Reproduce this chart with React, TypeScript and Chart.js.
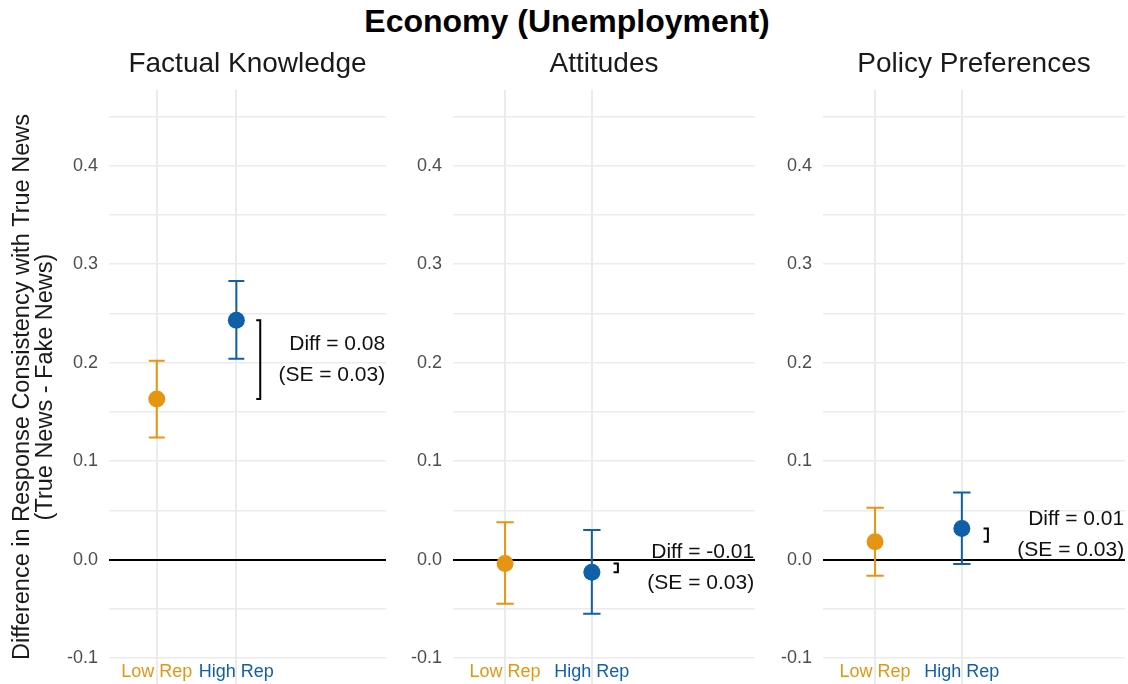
import React, { useEffect, useRef } from 'react';
import { Chart, registerables } from 'chart.js';
Chart.register(...registerables);

const FONT = "'Liberation Sans', Arial, Helvetica, sans-serif";

// ---- data ----
const mainTitle = 'Economy (Unemployment)';
const yTitle = ['Difference in Response Consistency with True News', '(True News - Fake News)'];
const panelTitles = ['Factual Knowledge', 'Attitudes', 'Policy Preferences'];
const groupLabels = ['Low Rep', 'High Rep'];
const groupX = [1, 2];
const groupColors = ['#E69512', '#1060A8'];
const lowRepEst = [0.163, -0.004, 0.018];
const lowRepLo = [0.124, -0.045, -0.0165];
const lowRepHi = [0.202, 0.038, 0.0525];
const highRepEst = [0.243, -0.013, 0.0315];
const highRepLo = [0.204, -0.055, -0.0045];
const highRepHi = [0.283, 0.03, 0.068];
const diffLabels = ['Diff = 0.08', 'Diff = -0.01', 'Diff = 0.01'];
const seLabels = ['(SE = 0.03)', '(SE = 0.03)', '(SE = 0.03)'];

// ---- scale ranges ----
const yMin = -0.1264;
const yMax = 0.4769;
const xMin = 0.4;
const xMax = 3.88;
const textX = 3.87;
const bracketX = 2.3;
const bracketTick = 0.05;
const capHalf = 0.1;

// ---- layout ----
const canvasLeft = [0, 393, 763];
const canvasWidth = [386, 362, 362];
const axisWidth = [109, 60, 60];

function Panel({ idx }: { idx: number }) {
  const ref = useRef<HTMLCanvasElement>(null);
  useEffect(() => {
    if (!ref.current) return;
    const est = [lowRepEst[idx], highRepEst[idx]];
    const lo = [lowRepLo[idx], highRepLo[idx]];
    const hi = [lowRepHi[idx], highRepHi[idx]];

    const errDatasets: any[] = groupX.map((gx, g) => ({
      type: 'line',
      data: [
        { x: gx, y: lo[g] }, { x: gx, y: hi[g] }, { x: gx, y: null },
        { x: gx - capHalf, y: hi[g] }, { x: gx + capHalf, y: hi[g] }, { x: gx, y: null },
        { x: gx - capHalf, y: lo[g] }, { x: gx + capHalf, y: lo[g] },
      ],
      borderColor: groupColors[g],
      borderWidth: 2,
      pointRadius: 0,
      pointHoverRadius: 0,
      showLine: true,
      spanGaps: false,
      fill: false,
      tension: 0,
      order: 3,
    }));
    const bracket: any = {
      type: 'line',
      data: [
        { x: bracketX - bracketTick, y: est[1] }, { x: bracketX, y: est[1] },
        { x: bracketX, y: est[0] }, { x: bracketX - bracketTick, y: est[0] },
      ],
      borderColor: '#000',
      borderWidth: 2,
      pointRadius: 0,
      pointHoverRadius: 0,
      showLine: true,
      fill: false,
      tension: 0,
      borderJoinStyle: 'miter',
      order: 2,
    };
    const points: any = {
      type: 'scatter',
      data: groupX.map((gx, g) => ({ x: gx, y: est[g] })),
      pointBackgroundColor: groupColors,
      backgroundColor: groupColors,
      pointBorderWidth: 0,
      borderWidth: 0,
      pointRadius: 8.5,
      pointHoverRadius: 8.5,
      showLine: false,
      order: 1,
    };

    const textPlugin = {
      id: 'panelText' + idx,
      afterDatasetsDraw(chart: any) {
        const { ctx, chartArea, scales } = chart;
        const x = scales.x;
        const y = scales.y;
        ctx.save();
        ctx.fillStyle = '#1a1a1a';
        ctx.font = `28px ${FONT}`;
        ctx.textAlign = 'center';
        ctx.textBaseline = 'alphabetic';
        ctx.fillText(panelTitles[idx], (chartArea.left + chartArea.right) / 2, chartArea.top - 18.5);

        ctx.font = `18px ${FONT}`;
        ctx.textBaseline = 'middle';
        groupX.forEach((gx, g) => {
          ctx.fillStyle = groupColors[g];
          ctx.fillText(groupLabels[g], x.getPixelForValue(gx), chartArea.bottom - 11.5);
        });

        const midY = y.getPixelForValue((est[0] + est[1]) / 2);
        const tx = x.getPixelForValue(textX);
        ctx.font = `21px ${FONT}`;
        ctx.textAlign = 'right';
        ctx.fillStyle = '#111';
        ctx.fillText(diffLabels[idx], tx, midY - 15.5);
        ctx.fillText(seLabels[idx], tx, midY + 15.5);
        ctx.restore();
      },
    };

    const isZero = (c: any) => c.tick && Math.abs(c.tick.value) < 1e-9;
    const noPad = (s: any) => { s.paddingTop = 0; s.paddingBottom = 0; s.paddingLeft = 0; s.paddingRight = 0; };

    const chart = new Chart(ref.current, {
      type: 'scatter',
      data: { datasets: [...errDatasets, bracket, points] },
      options: {
        animation: false,
        responsive: false,
        devicePixelRatio: 1,
        events: [],
        layout: { autoPadding: false, padding: { top: 90, bottom: 0, left: 0, right: 0 } },
        plugins: { legend: { display: false }, tooltip: { enabled: false }, title: { display: false } },
        scales: {
          x: {
            type: 'linear',
            min: xMin,
            max: xMax,
            afterBuildTicks: (s: any) => { s.ticks = groupX.map((v) => ({ value: v })); },
            afterFit: (s: any) => { s.height = 0; noPad(s); },
            ticks: { display: false },
            grid: { drawTicks: false, color: '#EBEBEB', lineWidth: 2 },
            border: { display: false },
          },
          y: {
            type: 'linear',
            min: yMin,
            max: yMax,
            afterBuildTicks: (s: any) => {
              s.ticks = s.ticks.filter((t: any) => Math.abs(t.value / 0.05 - Math.round(t.value / 0.05)) < 1e-6);
            },
            afterFit: (s: any) => { s.width = axisWidth[idx]; noPad(s); },
            ticks: {
              stepSize: 0.05,
              padding: 11,
              color: '#4D4D4D',
              font: { family: FONT, size: 18 },
              autoSkip: false,
              callback: (v: any) => (Math.abs(v * 10 - Math.round(v * 10)) < 1e-6 ? Number(v).toFixed(1) : ''),
            },
            grid: {
              drawTicks: false,
              color: (c: any) => (isZero(c) ? '#000' : '#EBEBEB'),
              lineWidth: (c: any) => (isZero(c) ? 2 : 1.6),
            },
            border: { display: false },
            title: idx === 0
              ? { display: true, text: yTitle, color: '#1a1a1a', font: { family: FONT, size: 23.5, lineHeight: 1 }, padding: { top: 10.5, bottom: 0 } }
              : { display: false },
          },
        },
      } as any,
      plugins: [textPlugin],
    } as any);
    return () => chart.destroy();
  }, [idx]);
  return (
    <canvas
      ref={ref}
      width={canvasWidth[idx]}
      height={684}
      style={{ position: 'absolute', left: canvasLeft[idx], top: 0, width: canvasWidth[idx], height: 684 }}
    />
  );
}

export default function App() {
  return (
    <div style={{ position: 'fixed', left: 0, top: 0, width: 1128, height: 684, background: '#fff', overflow: 'hidden' }}>
      <div
        style={{
          position: 'absolute', left: 0, top: 4.6, width: 1134, textAlign: 'center',
          font: `bold 32px/32px ${FONT}`, color: '#000', whiteSpace: 'nowrap',
        }}
      >
        {mainTitle}
      </div>
      {panelTitles.map((_, i) => <Panel key={i} idx={i} />)}
    </div>
  );
}
